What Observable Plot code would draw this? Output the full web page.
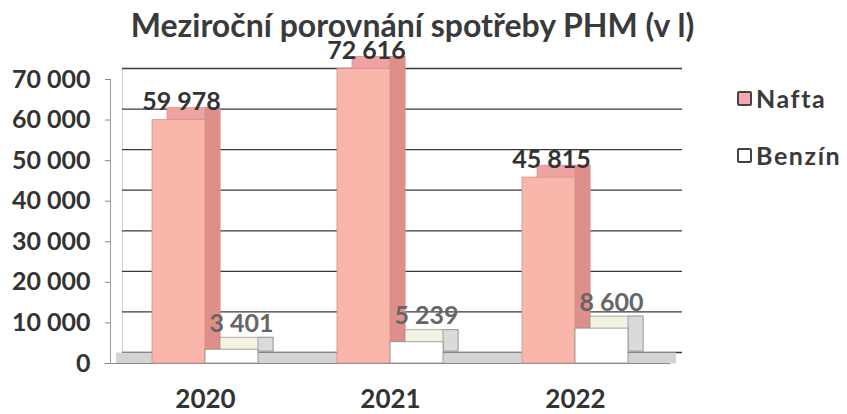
<!DOCTYPE html>
<html>
<head>
<meta charset="utf-8">
<script src="https://cdn.jsdelivr.net/npm/d3@7"></script>
<script src="https://cdn.jsdelivr.net/npm/@observablehq/plot@0.6"></script>
<style>
  html, body { margin: 0; padding: 0; background: #fff; }
  #wrap { position: relative; width: 847px; height: 414px; overflow: hidden; font-family: Lato, "DejaVu Sans", sans-serif; color: #333; }
  #title { position: absolute; top: 10px; left: 0; width: 825px; height: 30px; text-align: center; font-size: 32px; font-weight: 700; line-height: 30px; color: #3a3a3a; z-index: 2; }
  #chart { position: absolute; top: 40px; left: 0; }
  .leg { position: absolute; left: 737px; font-size: 25px; font-weight: 700; letter-spacing: 1.6px; color: #3a3a3a; line-height: 1; display: flex; align-items: center; }
  .sw { width: 11px; height: 11px; border: 2.5px solid #444; border-radius: 2px; margin-right: 4px; }
</style>
</head>
<body>
<div id="wrap">
  <div id="title">Meziroční porovnání spotřeby PHM (v l)</div>
  <div id="chart"></div>
  <div class="leg" style="top:86px"><span class="sw" style="background:#f4a9b0"></span><span id="l0"></span></div>
  <div class="leg" style="top:143px"><span class="sw" style="background:#fff"></span><span id="l1"></span></div>
</div>
<script>
const years = ["2020", "2021", "2022"];
const nafta = [59978, 72616, 45815];
const benzin = [3401, 5239, 8600];
const yTicks = [0, 10000, 20000, 30000, 40000, 50000, 60000, 70000];
const seriesNames = ["Nafta", "Benzín"];

document.getElementById("l0").textContent = seriesNames[0];
document.getElementById("l1").textContent = seriesNames[1];

const rows = years.map((y, i) => ({year: y, nafta: nafta[i], benzin: benzin[i]}));
const fmt = d => d3.format(",")(d).replace(/,/g, "\u00a0");

const half = 53;            // half of band width
const DX = 15, DY = -12;    // bar depth
const WX = 12, WY = -11;    // wall depth

// a pseudo-3D box: top face (offset copy), side strip, front face
function box(field, side, colors) {
  const base = side === "left" ? {insetRight: half} : {insetLeft: half};
  const sideInset = side === "left"
    ? {insetLeft: half - DX, insetRight: half}
    : {insetLeft: 2 * half - DX, insetRight: 0};
  return [
    Plot.barY(rows, {x: "year", y: field, ...base, dx: DX, dy: DY, fill: colors.top, stroke: colors.edge, strokeWidth: 0.7}),
    Plot.barY(rows, {x: "year", y: field, ...sideInset, dx: DX, dy: DY, fill: colors.side, stroke: colors.edge, strokeWidth: 0.7}),
    Plot.barY(rows, {x: "year", y: field, ...base, fill: colors.front, stroke: colors.edge, strokeWidth: 0.8})
  ];
}

const chart = Plot.plot({
  width: 847,
  height: 374,
  marginLeft: 110,
  marginRight: 177,
  marginTop: 39,
  marginBottom: 51,
  style: {fontFamily: "Lato, 'DejaVu Sans', sans-serif", color: "#333", background: "transparent", overflow: "visible"},
  x: {domain: years, paddingInner: 0.427, paddingOuter: 0.227},
  y: {domain: [0, 70000]},
  marks: [
    // left wall edges
    Plot.frame({anchor: "left", dx: WX, dy: WY, stroke: "#d0d0d0", strokeWidth: 1}),
    Plot.frame({anchor: "left", stroke: "#9a9a9a", strokeWidth: 1}),
    // gridlines on back wall
    Plot.ruleY(yTicks, {dx: WX, dy: WY, stroke: "#3a3a3a", strokeWidth: 1.3}),
    // floor
    Plot.ruleY([0], {dx: WX / 2, dy: WY / 2, stroke: "#d3d3d3", strokeWidth: 11}),
    Plot.ruleY([0], {stroke: "#8a8a8a", strokeWidth: 1.2}),
    // bars
    ...box("nafta", "left", {top: "#eda3a1", side: "#df8f8a", front: "#f9b6aa", edge: "#d98e86"}),
    ...box("benzin", "right", {top: "#f4f2e2", side: "#dadada", front: "#ffffff", edge: "#8a8a8a"}),
    // value labels
    Plot.text(rows, {x: "year", y: "nafta", text: d => fmt(d.nafta), dx: -24, dy: -18, fontSize: 25, fontWeight: "bold", fill: "#333"}),
    Plot.text(rows, {x: "year", y: "benzin", text: d => fmt(d.benzin), dx: 36, dy: -26, fontSize: 25, fontWeight: "bold", fill: "#666"}),
    // axes
    Plot.axisY({ticks: yTicks, tickFormat: fmt, tickSize: 5, tickPadding: 15, fontSize: 25, fontWeight: "bold", label: null, stroke: "#888"}),
    Plot.axisX({tickSize: 0, tickPadding: 26, fontSize: 26, fontWeight: "bold", label: null})
  ]
});
document.getElementById("chart").appendChild(chart);
</script>
</body>
</html>
